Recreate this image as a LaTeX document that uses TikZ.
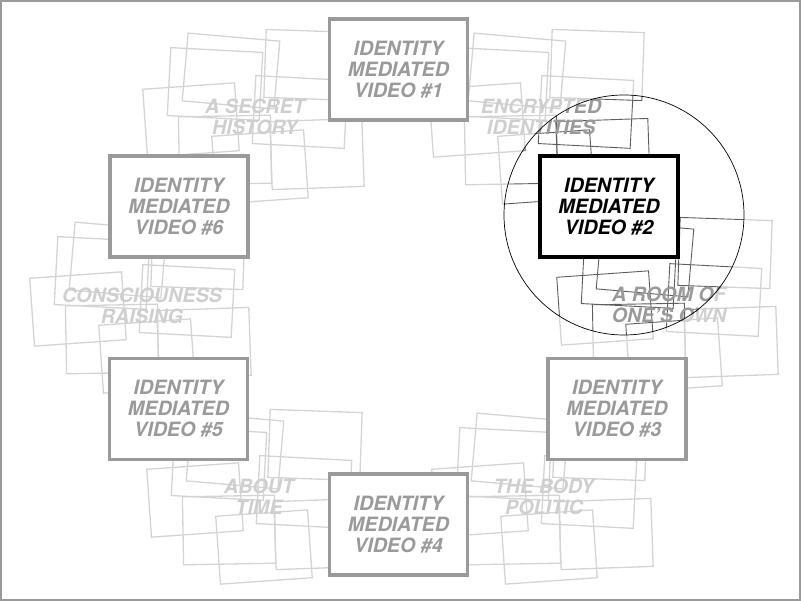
\documentclass[tikz,border=0pt]{standalone}
\usepackage{fontspec}
\setsansfont{TeX Gyre Heros}
\usepackage{tikz}
\usetikzlibrary{calc}
\definecolor{Kasten}{HTML}{9A9A9A}
\definecolor{Blass}{HTML}{CFCFCF}
\definecolor{Linie}{HTML}{D4D4D4}
\definecolor{Dunkel}{HTML}{5E5E5E}
\tikzset{
  Video/.style={draw=Kasten, line width=3.5pt, fill=white, text=Kasten,
    minimum width=138pt, minimum height=101pt, align=center}, % für Videokästen
  Thema/.style={text=Blass, align=center, inner sep=0pt}, % für Stapeltitel
  Foto/.style={draw=Linie, line width=1.3pt, minimum width=92pt,
    minimum height=68pt, inner sep=0pt} % für Einzelbilder
}
% Bilderstapel: #1 Name, #2 Mitte, #3 Zusatzstil
\newcommand{\Stapel}[3]{%
  \foreach \dx/\dy/\winkel [count=\nr] in {-24/-46/-5,-40/-33/-3,-64/3/4,-30/33/1,
                                         56/-52/-2,45/-5/-3,62/37/2,5/50/4}
    \node[Foto,#3,rotate=\winkel] (#1-\nr) at ($(#2)+(\dx,\dy)$) {};%
}

\begin{document}
\begin{tikzpicture}[x=1pt, y=-1pt,
font=\sffamily\bfseries\itshape\fontsize{19.7}{21}\selectfont
]
\useasboundingbox (0,0) rectangle (801,601);

%Rahmen
\draw[Kasten, line width=2pt] (1,1) rectangle (800,600);

%Stapelmitten
\coordinate (S1) at (255,117);
\coordinate (S2) at (541,117);
\coordinate (S3) at (142,306);
\coordinate (S4) at (669,305);
\coordinate (S5) at (259,497);
\coordinate (S6) at (544,497);
\coordinate (M) at (624,215);

%Bilderstapel
\foreach \i in {1,...,6} {\Stapel{F\i}{S\i}{}}

%Stapeltitel
\node[Thema] (T1) at (S1) {A SECRET\\HISTORY};
\node[Thema] (T2) at (S2) {ENCRYPTED\\IDENTITIES};
\node[Thema] (T3) at (S3) {CONSCIOUNESS\\RAISING};
\node[Thema] (T4) at (S4) {A ROOM OF\\ONE’S OWN};
\node[Thema] (T5) at (S5) {ABOUT\\TIME};
\node[Thema] (T6) at (S6) {THE BODY\\POLITIC};

%Lupe
\begin{scope}
  \clip (M) circle (120pt);
  \fill[white] (M) circle (120pt);
  \Stapel{L2}{S2}{draw=Dunkel, line width=0.9pt}
  \Stapel{L4}{S4}{draw=Dunkel, line width=0.9pt}
  \node[Thema, text=Kasten] (L2-T) at (S2) {ENCRYPTED\\IDENTITIES};
  \node[Thema, text=Kasten] (L4-T) at (S4) {A ROOM OF\\ONE’S OWN};
\end{scope}
\node[circle, draw, line width=0.7pt, minimum size=240pt, inner sep=0pt] (Lupe) at (M) {};

%Videos
\node[Video] (V1) at (398.5,69.5) {IDENTITY\\MEDIATED\\VIDEO \#1};
\node[Video, draw=black, text=black, line width=4pt] (V2) at (609,207) {IDENTITY\\MEDIATED\\VIDEO \#2};
\node[Video] (V3) at (617,409) {IDENTITY\\MEDIATED\\VIDEO \#3};
\node[Video] (V4) at (398.5,524.5) {IDENTITY\\MEDIATED\\VIDEO \#4};
\node[Video] (V5) at (178.5,409) {IDENTITY\\MEDIATED\\VIDEO \#5};
\node[Video] (V6) at (179,206.5) {IDENTITY\\MEDIATED\\VIDEO \#6};

\end{tikzpicture}
\end{document}
